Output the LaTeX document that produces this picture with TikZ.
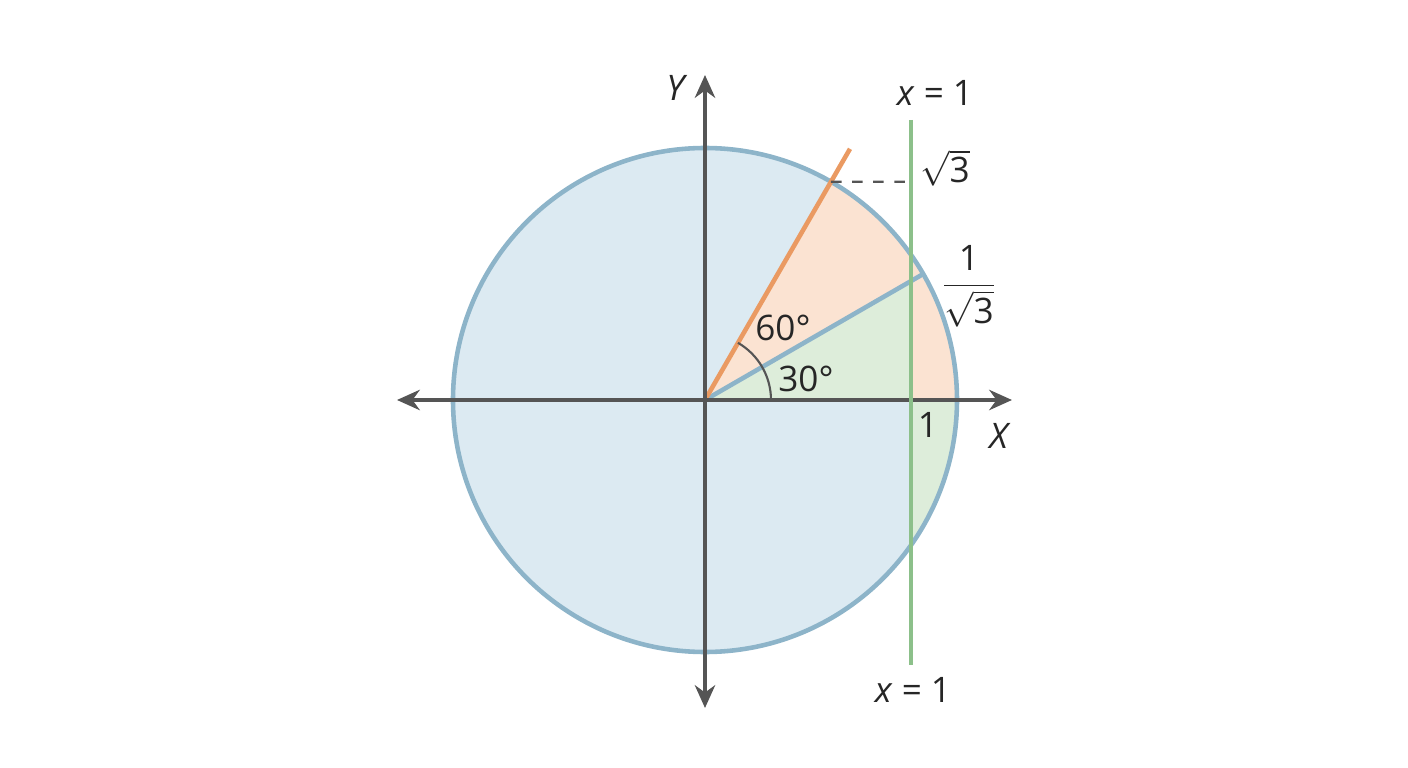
\documentclass[tikz,border=0pt]{standalone}
\usepackage{fontspec}
\setmainfont{Open Sans}
\usetikzlibrary{arrows.meta}
\definecolor{circfill}{HTML}{DCEAF2}
\definecolor{circline}{HTML}{8DB4C9}
\definecolor{peach}{HTML}{FBE3D2}
\definecolor{greenfill}{HTML}{DDEDDA}
\definecolor{orangeline}{HTML}{EA9A62}
\definecolor{greenline}{HTML}{8CC08A}
\definecolor{axisgray}{HTML}{555555}
\tikzset{
  axis/.style={draw=axisgray,line width=1pt,-{Stealth[length=6.5pt,width=5.8pt]}},
  lbl/.style={font=\fontsize{10}{12}\selectfont,text=black!85,inner sep=1pt}
}
\begin{document}
\begin{tikzpicture}
\useasboundingbox (-7.05,-3.68) rectangle (7.03,4.00);

\coordinate (O) at (0,0);
\coordinate (P60) at (60:2.52);
\coordinate (R60) at (60:2.90);
\coordinate (P30) at (30:2.52);
\coordinate (G1) at (2.06,2.80);
\coordinate (G2) at (2.06,-2.65);
\coordinate (D) at (2.06,2.182);
\coordinate (XL) at (-3.08,0);
\coordinate (XR) at (3.07,0);
\coordinate (YB) at (0,-3.08);
\coordinate (YT) at (0,3.25);

\fill[circfill] (O) circle (2.52);
\fill[peach] (O) -- (P30) arc (30:60:2.52) -- cycle;
\begin{scope}
\clip (-3,-3) rectangle (2.06,3);
\fill[greenfill] (O) -- (2.52,0) arc (0:30:2.52) -- cycle;
\end{scope}
\begin{scope}
\clip (O) circle (2.52);
\fill[peach] (2.06,0) rectangle (2.7,2.7);
\fill[greenfill] (2.06,0) rectangle (2.7,-2.7);
\end{scope}

\draw[circline,line width=1.3pt] (O) circle (2.52);
\draw[circline,line width=1.3pt] (O) -- (P30);
\draw[orangeline,line width=1.3pt] (O) -- (R60);
\draw[axisgray,line width=0.6pt,dashed] (P60) -- (D);
\draw[axisgray,line width=0.6pt] (0.66,0) arc (0:60:0.66);

\path[axis] (O) -- (XR);
\path[axis] (O) -- (XL);
\path[axis] (O) -- (YT);
\path[axis] (O) -- (YB);

\draw[greenline,line width=1.3pt] (G1) -- (G2);

\node[lbl] (ylbl) at (-0.28,3.12) {\textit{Y}};
\node[lbl] (xlbl) at (2.95,-0.36) {\textit{X}};
\node[lbl] (one) at (2.23,-0.25) {1};
\node[lbl] (ang60) at (0.78,0.72) {60°};
\node[lbl] (ang30) at (1.01,0.21) {30°};
\node[lbl] (sq3) at (2.40,2.32) {$\sqrt{\mbox{3}}$};
\node[lbl] (frac) at (2.64,1.14) {$\displaystyle\frac{\mbox{1}}{\sqrt{\mbox{3}}}$};
\node[lbl] (xtop) at (2.30,3.07) {\textit{x} = 1};
\node[lbl] (xbot) at (2.08,-2.90) {\textit{x} = 1};
\end{tikzpicture}
\end{document}
